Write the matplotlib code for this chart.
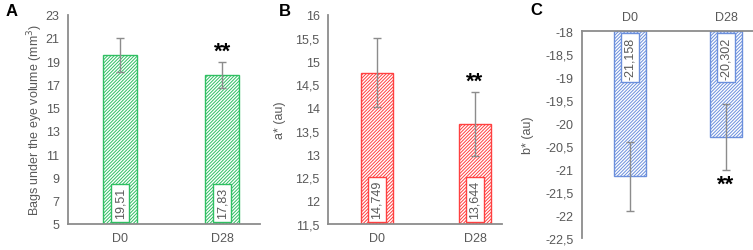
import numpy as np
import matplotlib
matplotlib.use("Agg")
import matplotlib.pyplot as plt
from matplotlib.ticker import FuncFormatter

plt.rcParams['font.family'] = ['Liberation Sans', 'DejaVu Sans']
plt.rcParams['hatch.linewidth'] = 0.7

# Data
categories = ["D0", "D28"]
bags_mean = [19.51, 17.83]
bags_err = [1.45, 1.12]
bags_labels = ["19,51", "17,83"]
a_mean = [14.749, 13.644]
a_err = [0.74, 0.69]
a_labels = ["14,749", "13,644"]
b_mean = [-21.158, -20.302]
b_err = [0.75, 0.72]
b_labels = ["-21,158", "-20,302"]
signif = ["", "**"]

grey_txt = "#595959"
grey_line = "#8c8c8c"
green = "#2fbf62"
red = "#ff4040"
blue = "#6b8fdc"

comma = FuncFormatter(lambda v, pos: ("%g" % v).replace(".", ","))

fig = plt.figure(figsize=(7.53, 2.51), dpi=100)
axA = fig.add_axes([0.0903, 0.1036, 0.2550, 0.8339])
axB = fig.add_axes([0.4356, 0.1036, 0.2311, 0.8339])
axC = fig.add_axes([0.7729, 0.0466, 0.2271, 0.8259])


def style(ax, top_axis=False):
    for s in ax.spines.values():
        s.set_visible(False)
    ax.spines['left'].set_visible(True)
    ax.spines['left'].set_color(grey_line)
    ax.spines['left'].set_linewidth(1.3)
    key = 'top' if top_axis else 'bottom'
    ax.spines[key].set_visible(True)
    ax.spines[key].set_color(grey_line)
    ax.spines[key].set_linewidth(1.3)
    ax.tick_params(length=0, labelsize=9, colors=grey_txt, pad=6)
    ax.yaxis.set_major_formatter(comma)
    if top_axis:
        ax.xaxis.tick_top()


def panel(ax, means, errs, labels, color, base, ylim, step, xlim, ylabel, top_axis=False):
    x = np.arange(len(categories))
    ax.bar(x, np.array(means) - base, bottom=base, width=0.33, color="white",
           edgecolor=color, hatch="//////////", linewidth=1.0, zorder=2)
    ax.errorbar(x, means, yerr=errs, fmt="none", ecolor=grey_line, elinewidth=1,
                capsize=3, capthick=1, zorder=3)
    for xi, lab in zip(x, labels):
        ax.annotate(lab, (xi, base), xytext=(0, -4 if top_axis else 4),
                    textcoords="offset points", rotation=90, ha="center",
                    va="top" if top_axis else "bottom", fontsize=9, color=grey_txt,
                    bbox=dict(boxstyle="square,pad=0.25", fc="white", ec=color, lw=1.0),
                    zorder=4)
    for xi, m, e, s in zip(x, means, errs, signif):
        if not s:
            continue
        if top_axis:
            ax.annotate(s, (xi, m - e), xytext=(0, -18), textcoords="offset points",
                        ha="center", va="bottom", fontsize=16, fontweight="bold")
        else:
            ax.annotate(s, (xi, m + e), xytext=(0, 0), textcoords="offset points",
                        ha="center", va="bottom", fontsize=16, fontweight="bold")
    ax.set_xticks(x)
    ax.set_xticklabels(categories)
    ax.set_ylim(*ylim)
    lo, hi = min(ylim), max(ylim)
    ax.set_yticks(np.arange(lo, hi + step / 2, step))
    ax.set_xlim(*xlim)
    ax.set_ylabel(ylabel, fontsize=9, color=grey_txt)
    style(ax, top_axis)


panel(axA, bags_mean, bags_err, bags_labels, green, 5, (5, 23), 2, (-0.51, 1.37),
      "Bags under the eye volume (mm$^3$)")
panel(axB, a_mean, a_err, a_labels, red, 11.5, (11.5, 16), 0.5, (-0.5, 1.276),
      "a* (au)")
panel(axC, b_mean, b_err, b_labels, blue, -18, (-22.5, -18), 0.5, (-0.5, 1.28),
      "b* (au)", top_axis=True)

axA.yaxis.set_label_coords(-0.12, 0.5)
axB.yaxis.set_label_coords(-0.24, 0.5)
axC.yaxis.set_label_coords(-0.28, 0.5)

fig.text(0.008, 0.985, "A", fontsize=12, fontweight="bold", va="top")
fig.text(0.370, 0.985, "B", fontsize=12, fontweight="bold", va="top")
fig.text(0.705, 0.99, "C", fontsize=12, fontweight="bold", va="top")

fig.savefig("out.png", dpi=100)
